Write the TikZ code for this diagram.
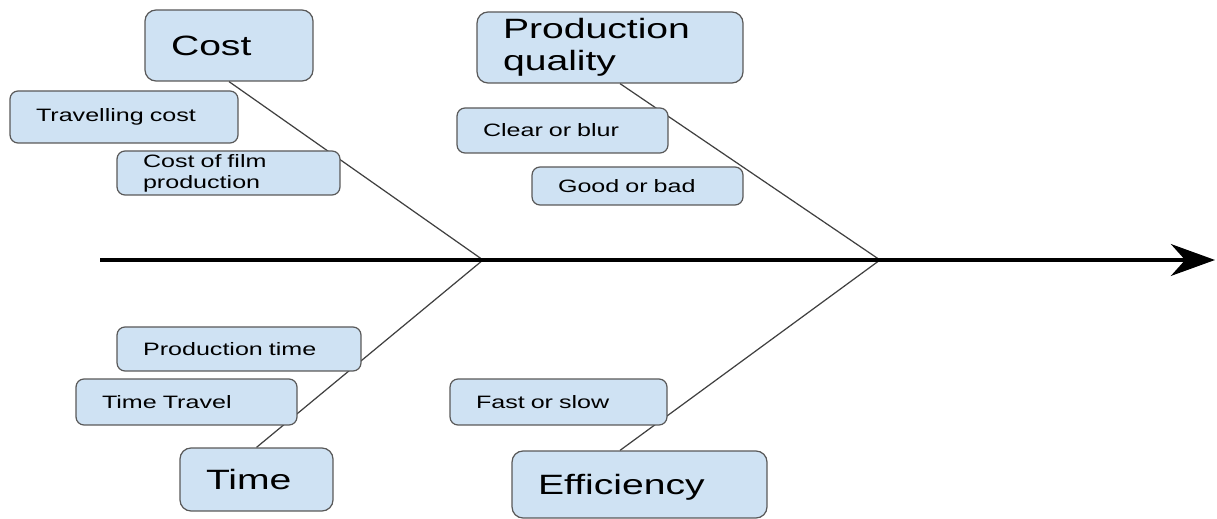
\documentclass[tikz,border=0pt]{standalone}
\usepackage{fontspec}
\setmainfont{Liberation Sans}[FakeStretch=1.4]
\usetikzlibrary{arrows.meta,backgrounds}
\definecolor{boxblue}{HTML}{CFE2F3}
\definecolor{boxline}{HTML}{595959}
\definecolor{bone}{HTML}{404040}

\begin{document}
\begin{tikzpicture}[x=0.02cm, y=-0.02cm,
    cause/.style={draw=boxline, fill=boxblue, line width=0.7pt, rounded corners=0.22cm,
      inner xsep=0.52cm, inner ysep=0pt, align=left,
      font=\fontsize{15.9}{18.1}\selectfont},
    item/.style={cause, rounded corners=0.16cm, font=\fontsize{10.2}{11.9}\selectfont},
    rib/.style={draw=bone, line width=0.7pt}]
  \useasboundingbox (0,0) rectangle (1217,519);
  % spine
  \coordinate (tail) at (100,260);
  \coordinate (head) at (1215,260);
  \coordinate (j1) at (483,260);
  \coordinate (j2) at (880,260);
  \draw [line width=2.8pt, -{Stealth[length=25pt, width=18pt, inset=8pt]}] (tail) -- (head);
  % main causes
  \node [cause, text width=2.32cm, minimum height=1.42cm] (cost) at (229,45.5) {Cost};
  \node [cause, text width=4.28cm, minimum height=1.42cm] (quality) at (610,47.5) {Production\\quality};
  \node [cause, text width=2.02cm, minimum height=1.26cm] (time) at (256.5,479.5) {Time};
  \node [cause, text width=4.06cm, minimum height=1.34cm, text depth=0pt] (eff) at (639.5,484.5) {Efficiency};
  % sub causes
  \node [item, text width=3.52cm, minimum height=1.04cm] (travelcost) at (124,117) {Travelling cost};
  \node [item, text width=3.42cm, minimum height=0.88cm] (filmcost) at (228.5,173) {Cost of film\\production};
  \node [item, text width=3.18cm, minimum height=0.90cm] (clear) at (562.5,130.5) {Clear or blur};
  \node [item, text width=3.18cm, minimum height=0.76cm] (good) at (637.5,186) {Good or bad};
  \node [item, text width=3.84cm, minimum height=0.88cm] (prodtime) at (239,349) {Production time};
  \node [item, text width=3.38cm, minimum height=0.92cm] (timetravel) at (186.5,402) {Time Travel};
  \node [item, text width=3.30cm, minimum height=0.92cm] (fast) at (558.5,402) {Fast or slow};
  % ribs, behind the boxes
  \begin{scope}[on background layer]
    \draw [rib] (cost.south) -- (j1);
    \draw [rib] ([xshift=0.2cm]quality.south) -- (j2);
    \draw [rib] (time.north) -- (j1);
    \draw [rib] ([xshift=-0.39cm]eff.north) -- (j2);
  \end{scope}
\end{tikzpicture}
\end{document}
